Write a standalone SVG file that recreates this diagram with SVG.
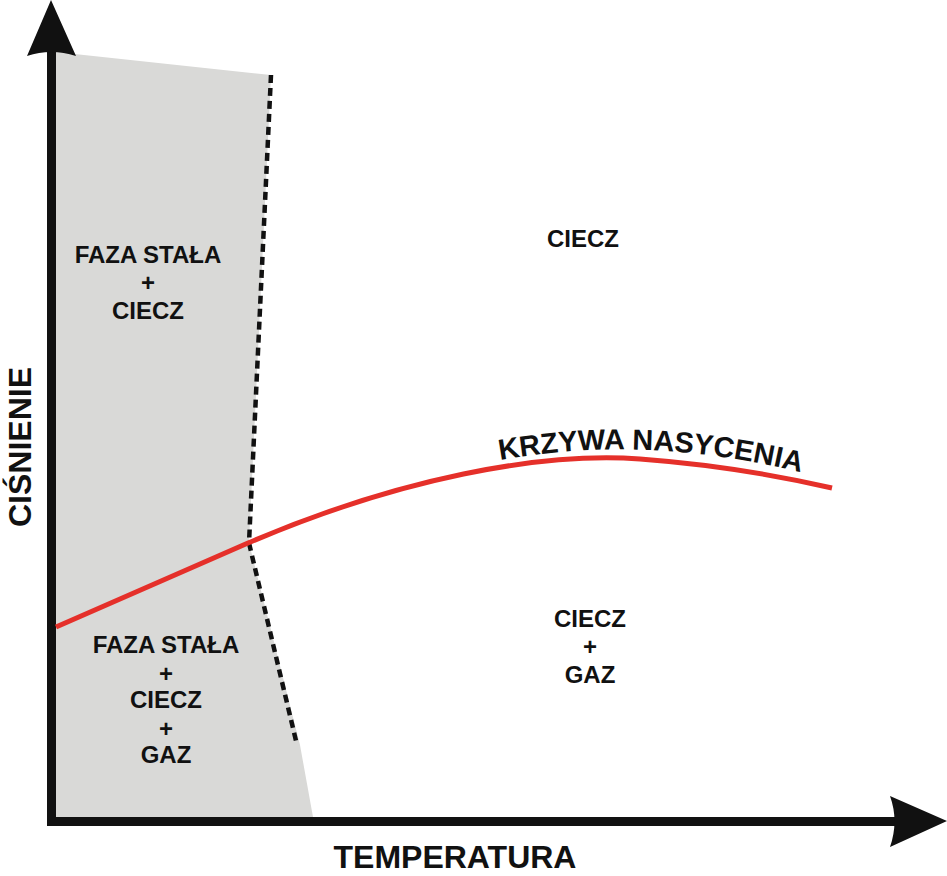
<svg xmlns="http://www.w3.org/2000/svg" width="947" height="876" viewBox="0 0 947 876">
<defs>
<style>
.lbl{font-family:"Liberation Sans",Arial,sans-serif;font-weight:bold;font-size:24px;fill:#111;text-anchor:middle}
.axis{font-family:"Liberation Sans",Arial,sans-serif;font-weight:bold;font-size:32px;fill:#111;text-anchor:middle}
.dash{fill:none;stroke:#111;stroke-width:4.5;stroke-dasharray:8 5}
.ax{stroke:#111;stroke-width:9;fill:none}
</style>
<path id="curvetext" d="M495,461 Q650,432 815,476"/>
</defs>
<rect width="947" height="876" fill="#ffffff"/>
<g id="solid-region">
<polygon points="56,52 271,75 249,543 300,745 313,817 56,817" fill="#d9d9d7"/>
</g>
<g id="axes">
<line class="ax" x1="51.5" y1="48" x2="51.5" y2="826"/>
<line class="ax" x1="47" y1="821.5" x2="895" y2="821.5"/>
<path d="M51,0 L76,56 Q51,48 27,56 Z" fill="#111"/>
<path d="M947,821 L890,796 Q899,821 890,847 Z" fill="#111"/>
</g>
<g id="connectors">
<line class="dash" x1="271" y1="75" x2="249" y2="543"/>
<line class="dash" x1="249" y1="543" x2="297" y2="745"/>
<path d="M56,627 L248,543 C400,478 540,452 640,459 C720,465 780,476 832,488" fill="none" stroke="#e5302a" stroke-width="5"/>
</g>
<g id="label-solid-liquid">
<text class="lbl" x="148" y="263">FAZA STAŁA</text>
<text class="lbl" x="148" y="291">+</text>
<text class="lbl" x="148" y="319">CIECZ</text>
</g>
<g id="label-solid-liquid-gas">
<text class="lbl" x="166" y="653">FAZA STAŁA</text>
<text class="lbl" x="166" y="682">+</text>
<text class="lbl" x="166" y="708">CIECZ</text>
<text class="lbl" x="166" y="737">+</text>
<text class="lbl" x="166" y="763">GAZ</text>
</g>
<g id="label-liquid">
<text class="lbl" x="583" y="247">CIECZ</text>
</g>
<g id="label-liquid-gas">
<text class="lbl" x="590" y="627">CIECZ</text>
<text class="lbl" x="590" y="655">+</text>
<text class="lbl" x="590" y="683">GAZ</text>
</g>
<g id="label-curve">
<text style="font-family:'Liberation Sans',Arial,sans-serif;font-weight:bold;font-size:29px;fill:#111"><textPath href="#curvetext" startOffset="5">KRZYWA NASYCENIA</textPath></text>
</g>
<g id="axis-labels">
<text class="axis" x="455" y="868">TEMPERATURA</text>
<text class="axis" transform="translate(31,447) rotate(-90)" x="0" y="0">CIŚNIENIE</text>
</g>
</svg>
